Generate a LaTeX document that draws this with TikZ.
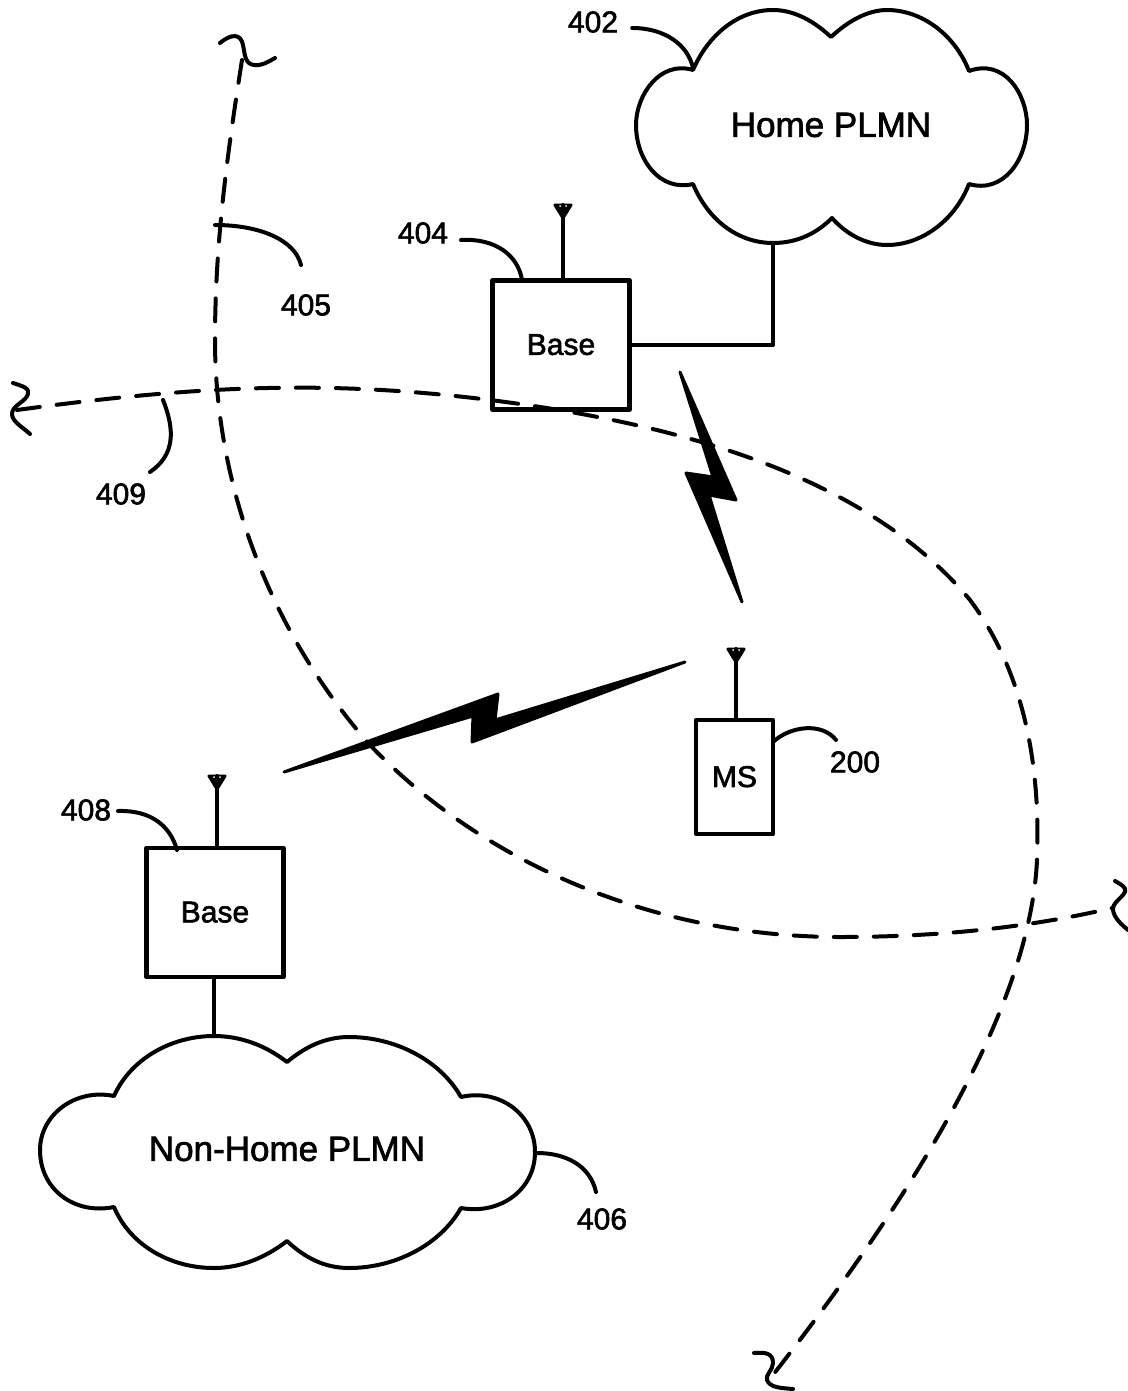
\documentclass[tikz,border=0pt]{standalone}
\usepackage{fontspec}
\setmainfont[FakeBold=2]{Liberation Sans}
\tikzset{
  solidline/.style={line width=4pt,line join=round,line cap=round},
  thinline/.style={line width=4pt,line cap=round,line join=round},
  dashcurve/.style={line width=4pt,dash pattern=on 23pt off 17pt,line cap=round},
  boxnode/.style={draw,line width=4.5pt,line join=round,minimum width=137pt,minimum height=129pt,inner sep=0pt,font=\fontsize{30}{32}\selectfont},
  reftext/.style={inner sep=0pt,yshift=1pt,font=\fontsize{30}{32}\selectfont},
  cloudtext/.style={inner sep=0pt,yshift=1pt,font=\fontsize{35}{40}\selectfont},
}
\begin{document}
\begin{tikzpicture}[x=1pt,y=-1pt]
\useasboundingbox (0,0) rectangle (1127,1391);
% dashed curves
\draw[dashcurve] (242,60) .. controls (228,150) and (215,240) .. (215,340)
  .. controls (215,470) and (260,620) .. (370,745)
  .. controls (480,860) and (650,937) .. (840,937)
  .. controls (950,937) and (1040,925) .. (1112,908);
\draw[dashcurve] (17,410) .. controls (200,385) and (330,380) .. (490,400)
  .. controls (690,425) and (870,480) .. (970,600)
  .. controls (1030,680) and (1040,780) .. (1037,860)
  .. controls (1030,1010) and (910,1200) .. (769,1380);
% squiggles
\draw[thinline] (220,43) .. controls (232,33) and (241,34) .. (243,45) .. controls (245,55) and (245,64) .. (254,65) .. controls (262,66) and (268,62) .. (275,58);
\draw[thinline] (13,383) .. controls (22,386) and (30,388) .. (28,394) .. controls (26,402) and (12,405) .. (12,414) .. controls (12,422) and (24,428) .. (30,434);
\draw[thinline] (1115,881) .. controls (1120,884) and (1127,887) .. (1125,892) .. controls (1122,898) and (1112,903) .. (1113,910) .. controls (1114,918) and (1122,925) .. (1128,930);
\draw[thinline] (754,1353) .. controls (765,1352) and (773,1353) .. (773,1363) .. controls (773,1370) and (765,1375) .. (767,1380) .. controls (770,1388) and (782,1388) .. (793,1389);
% Home PLMN cloud
\draw[solidline] (693,70) .. controls (708,35) and (738,10) .. (773,10)
  .. controls (795,10) and (815,22) .. (831,37)
  .. controls (847,22) and (867,10) .. (887,10)
  .. controls (922,10) and (955,35) .. (969,71)
  .. controls (1005,58) and (1027,95) .. (1027,125)
  .. controls (1027,160) and (1003,194) .. (969,184)
  .. controls (955,220) and (922,245) .. (887,245)
  .. controls (867,245) and (847,235) .. (832,218)
  .. controls (815,235) and (795,243) .. (773,243)
  .. controls (738,243) and (708,220) .. (693,184)
  .. controls (660,192) and (636,160) .. (636,125)
  .. controls (636,95) and (660,60) .. (693,70) -- cycle;
\coordinate (homebottom) at (773,243);
\node[cloudtext] (home) at (831,126) {Home PLMN};
% Non-Home PLMN cloud
\draw[solidline] (114,1096) .. controls (130,1060) and (170,1036) .. (214,1036)
  .. controls (240,1036) and (265,1045) .. (287,1062)
  .. controls (305,1047) and (325,1037) .. (349,1037)
  .. controls (395,1037) and (440,1060) .. (461,1097)
  .. controls (500,1088) and (535,1115) .. (535,1152)
  .. controls (535,1190) and (500,1215) .. (461,1208)
  .. controls (440,1245) and (395,1268) .. (349,1268)
  .. controls (325,1268) and (305,1258) .. (287,1241)
  .. controls (265,1258) and (240,1268) .. (214,1268)
  .. controls (170,1268) and (130,1245) .. (114,1207)
  .. controls (75,1215) and (40,1190) .. (40,1150)
  .. controls (40,1115) and (75,1088) .. (114,1096) -- cycle;
\coordinate (nonhometop) at (214,1036);
\node[cloudtext] (nonhome) at (287,1150) {Non-Home PLMN};
% boxes
\node[boxnode] (base1) at (561,345) {\raisebox{1pt}{Base}};
\node[boxnode] (base2) at (215,912.5) {\raisebox{1pt}{Base}};
\node[boxnode,minimum width=77pt,minimum height=114pt] (ms) at (734.5,777) {\raisebox{1pt}{MS}};
% connectors
\draw[solidline] (homebottom) -- (773,345) -- (base1.east |- 773,345);
\draw[solidline] (base2.south -| nonhometop) -- (nonhometop);
% antennas
\coordinate (ant1) at (563,205);
\coordinate (ant2) at (217,776);
\coordinate (ant3) at (736,649);
\foreach \a in {ant1,ant2,ant3}{
  \fill[line join=round,draw,line width=3pt] (\a) ++(-8,0) -- ++(16,0) -- ++(-8,13) -- cycle;
  \fill[white] (\a) ++(-3,1) circle (1pt) ++(6,0) circle (1pt);
}
\draw[solidline] (ant1) -- (base1.north -| ant1);
\draw[solidline] (ant2) -- (base2.north -| ant2);
\draw[solidline] (ant3) -- (ms.north -| ant3);
% lightning
\fill[line join=round,draw,line width=3pt] (680,372) -- (736,500) -- (709,495) -- (742,602) -- (686,473) -- (713,477) -- cycle;
\fill[line join=round,draw,line width=3pt] (284,772) -- (473,716) -- (472,742) -- (685,662) -- (495,720) -- (498,694) -- cycle;
% labels
\node[reftext] (l402) at (593,23) {402};
\node[reftext] (l404) at (423,234) {404};
\node[reftext] (l405) at (306,306) {405};
\node[reftext] (l409) at (121,495) {409};
\node[reftext] (l408) at (86,811) {408};
\node[reftext] (l200) at (855,763) {200};
\node[reftext] (l406) at (602,1220) {406};
% leaders
\draw[thinline] (l402.east)++(14,6) .. controls (665,28) and (688,45) .. (693,68);
\draw[thinline] (461,240) .. controls (495,238) and (518,255) .. (522,280);
\draw[thinline] (215,225) .. controls (260,225) and (295,240) .. (301,265);
\draw[thinline] (163,400) .. controls (175,430) and (175,455) .. (150,472);
\draw[thinline] (118,811) .. controls (150,810) and (170,825) .. (177,850);
\draw[thinline] (773,742) .. controls (790,726) and (822,722) .. (836,740);
\draw[thinline] (537,1153) .. controls (565,1153) and (590,1165) .. (596,1192);
\end{tikzpicture}
\end{document}
